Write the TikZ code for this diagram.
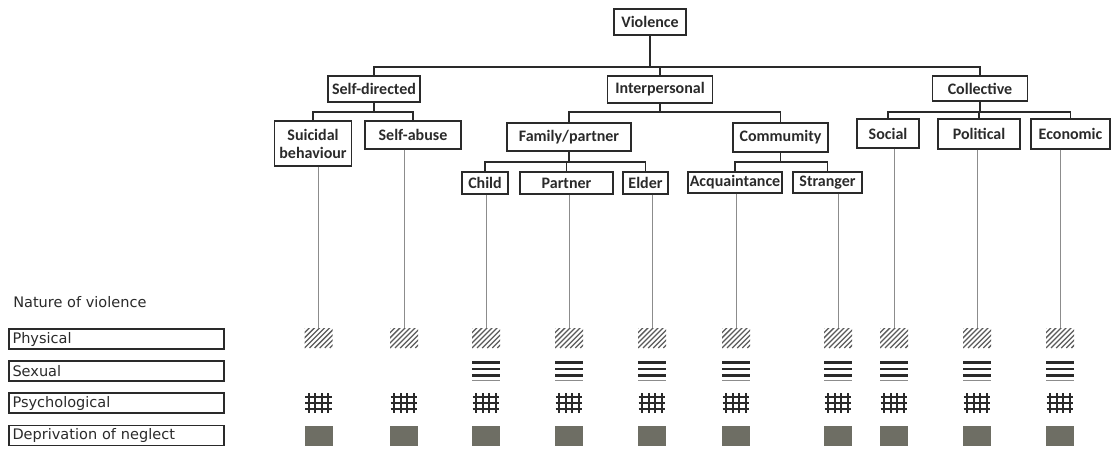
\documentclass[tikz,border=0pt]{standalone}
\usepackage{fontspec}
\setmainfont{Carlito}
\newfontfamily\legendfont{DejaVu Sans}
\definecolor{ink}{HTML}{2A2A2A}
\definecolor{stem}{HTML}{8C8C8C}
\definecolor{hatchc}{HTML}{5A5A5A}
\definecolor{fillg}{HTML}{6E6E64}
\begin{document}
\begin{tikzpicture}[x=0.75pt,y=-0.75pt,
  nb/.style 2 args={draw=ink, line width=1pt, minimum width=#1*0.75pt,
    minimum height=#2*0.75pt, inner sep=0pt, align=center, text=ink,
    font=\fontsize{12}{13.5}\selectfont\bfseries},
  tree/.style={draw=ink, line width=1.1pt},
  vline/.style={draw=stem, line width=0.7pt},
  legbox/.style={draw=ink, line width=1pt, minimum height=15pt,
    text width=156pt, inner xsep=2.6pt, inner ysep=0pt, align=left, text=ink,
    font=\legendfont\fontsize{10.9}{12}\selectfont},
  pat/.style={minimum width=21pt, inner sep=0pt, outer sep=0pt},
  phys/.style={pat, minimum height=15pt,
    path picture={\foreach \k in {-4,...,5}
      {\draw[hatchc, line width=0.95pt]
        ([xshift=\k*3.8pt]path picture bounding box.south west) -- ++(16pt,16pt);}}},
  sexual/.style={pat, minimum height=15pt,
    path picture={
      \foreach \d in {1.1,6,10.9}
        {\draw[ink, line width=1.9pt]
          ([yshift=-\d pt]path picture bounding box.north west) -- ++(21pt,0);}
      \draw[stem, line width=0.7pt]
        ([yshift=-14.6pt]path picture bounding box.north west) -- ++(21pt,0);}},
  psych/.style={pat, minimum width=20pt, minimum height=15pt,
    path picture={
      \foreach \d in {2.6,7.6,12.4,17.4}
        {\draw[ink, line width=1.35pt]
          ([xshift=\d pt]path picture bounding box.north west) -- ++(0,-15pt);}
      \foreach \d in {3.2,7.5,11.8}
        {\draw[ink, line width=1.35pt]
          ([yshift=-\d pt]path picture bounding box.north west) -- ++(20pt,0);}}},
  neglect/.style={pat, minimum height=15pt, fill=fillg}
]
\useasboundingbox (0,0) rectangle (1116,450);

% typology tree
\node[nb={72}{26}]  (violence)   at (650,22)     {Violence};
\node[nb={92}{26}]  (selfdir)    at (374,89)     {Self-directed};
\node[nb={105}{27}] (interp)     at (660,89.5)   {Interpersonal};
\node[nb={95}{25}]  (collective) at (980,88.5)   {Collective};
\node[nb={77}{45}]  (suicidal)   at (313,143.5)  {Suicidal\\behaviour};
\node[nb={96}{28}]  (selfabuse)  at (413,135)    {Self-abuse};
\node[nb={124}{28}] (family)     at (569,137)    {Family/partner};
\node[nb={95}{29}]  (community)  at (780.5,137.5){Commumity};
\node[nb={62}{29}]  (social)     at (888,133.5)  {Social};
\node[nb={82}{30}]  (political)  at (979,134)    {Political};
\node[nb={79}{30}]  (economic)   at (1070.5,134) {Economic};
\node[nb={46}{22}]  (child)      at (485,183)    {Child};
\node[nb={93}{22}]  (partner)    at (566.5,183)  {Partner};
\node[nb={45}{22}]  (elder)      at (645.5,183)  {Elder};
\node[nb={94}{21}]  (acquaint)   at (735,182.5)  {Acquaintance};
\node[nb={69}{21}]  (stranger)   at (827.5,182.5){Stranger};

% branch levels
\coordinate (b0) at (0,67);
\coordinate (b1) at (0,112);
\coordinate (b2) at (0,162);

\draw[tree] (violence.south) -- (violence.south |- b0);
\draw[tree] (selfdir.north) -- (selfdir.north |- b0) -- (collective.north |- b0) -- (collective.north);
\draw[tree] (interp.north) -- (interp.north |- b0);

\draw[tree] (selfdir.south) -- (selfdir.south |- b1);
\draw[tree] (suicidal.north) -- (suicidal.north |- b1) -- (selfabuse.north |- b1) -- (selfabuse.north);

\draw[tree] (interp.south) -- (interp.south |- b1);
\draw[tree] (family.north) -- (family.north |- b1) -- (community.north |- b1) -- (community.north);

\draw[tree] (collective.south) -- (collective.south |- b1);
\draw[tree] (social.north) -- (social.north |- b1) -- (economic.north |- b1) -- (economic.north);
\draw[tree] (political.north) -- (political.north |- b1);

\draw[tree] (family.south) -- (family.south |- b2);
\draw[tree] (child.north) -- (child.north |- b2) -- (elder.north |- b2) -- (elder.north);
\draw[tree] (partner.north) -- (partner.north |- b2);

\draw[tree] (community.south) -- (community.south |- b2);
\draw[tree] (acquaint.north) -- (acquaint.north |- b2) -- (stranger.north |- b2) -- (stranger.north);

% legend
\node[anchor=base west, inner sep=0pt, text=ink,
  font=\legendfont\fontsize{10.9}{12}\selectfont]
  (nature) at (13,307) {Nature of violence};
\node[legbox] (lphys)    at (116.5,339) {Physical};
\node[legbox] (lsexual)  at (116.5,371) {Sexual};
\node[legbox] (lpsych)   at (116.5,403) {Psychological};
\node[legbox] (lneglect) at (116.5,435.5) {Deprivation of neglect};

% nature-of-violence marks under each type
\foreach \n/\x/\s in {suicidal/318.5/0, selfabuse/404/0, child/486/1,
    partner/569/1, elder/652/1, acquaint/736/1, stranger/838/1,
    social/894/1, political/977/1, economic/1060/1}{
  \node[phys]    (phys-\n) at (\x,338) {};
  \ifnum\s=1 \node[sexual] (sex-\n) at (\x,371) {}; \fi
  \node[psych]   (psy-\n)  at (\x,403) {};
  \node[neglect] (neg-\n)  at (\x,436) {};
  \draw[vline] (\n.south -| phys-\n.north) -- (phys-\n.north);
}
\end{tikzpicture}
\end{document}
